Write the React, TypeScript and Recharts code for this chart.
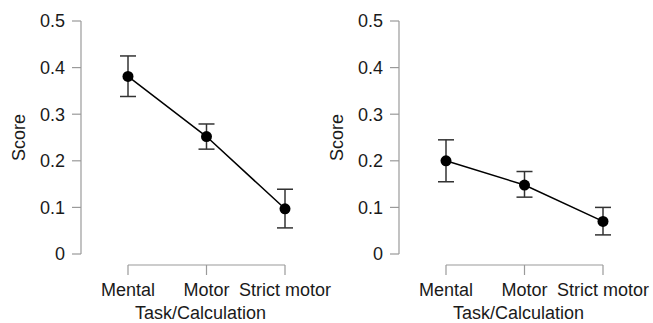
import React from 'react';
import { LineChart, Line, XAxis, YAxis, ErrorBar, ReferenceLine } from 'recharts';

const categories = ['Mental', 'Motor', 'Strict motor'];
const yTicks = [0, 0.1, 0.2, 0.3, 0.4, 0.5];

const leftMean = [0.381, 0.252, 0.097];
const leftLow = [0.338, 0.225, 0.056];
const leftHigh = [0.425, 0.279, 0.139];

const rightMean = [0.2, 0.148, 0.07];
const rightLow = [0.155, 0.122, 0.041];
const rightHigh = [0.245, 0.177, 0.1];

const FONT = '"Liberation Sans", Arial, sans-serif';
const AXIS = '#9a9a9a';
const TEXT = '#1a1a1a';

function buildRows(mean: number[], low: number[], high: number[]) {
  return categories.map((name, i) => ({
    name,
    score: mean[i],
    err: [mean[i] - low[i], high[i] - mean[i]],
  }));
}

const XTick = (props: any) => {
  const { x, y, payload } = props;
  return (
    <g>
      <line x1={x} x2={x} y1={y + 11} y2={y + 21} stroke={AXIS} strokeWidth={1.2} />
      <text x={x} y={y + 42} textAnchor="middle" fill={TEXT} fontSize={18} fontFamily={FONT}>
        {payload.value}
      </text>
    </g>
  );
};

const ScoreLabel = (props: any) => {
  const vb = props.viewBox || { x: 0, y: 0, width: 0, height: 0 };
  const cx = vb.x + 18.5;
  const cy = vb.y + vb.height / 2;
  return (
    <text
      x={cx}
      y={cy}
      dy="0.355em"
      textAnchor="middle"
      transform={`rotate(-90 ${cx} ${cy})`}
      fill={TEXT}
      fontSize={18}
      fontFamily={FONT}
    >
      Score
    </text>
  );
};

const AxisSegment = (p: any) => (
  <line x1={p.x1} y1={p.y1 + 11} x2={p.x2} y2={p.y2 + 11} stroke={AXIS} strokeWidth={1.2} />
);

function Panel({ rows, width }: { rows: any[]; width: number }) {
  return (
    <LineChart
      width={width}
      height={323}
      data={rows}
      margin={{ top: 21, right: width - 320, bottom: 0, left: 0 }}
      style={{ fontFamily: FONT }}
    >
      <XAxis
        dataKey="name"
        type="category"
        height={69}
        padding={{ left: 47, right: 35 }}
        axisLine={false}
        tickLine={false}
        tickSize={0}
        tickMargin={0}
        interval={0}
        tick={<XTick />}
        label={{ value: 'Task/Calculation', position: 'insideBottom', offset: 4, fill: TEXT, fontSize: 18, fontFamily: FONT }}
      />
      <YAxis
        type="number"
        domain={[0, 0.5]}
        ticks={yTicks}
        width={81}
        axisLine={{ stroke: AXIS, strokeWidth: 1.2 }}
        tickLine={{ stroke: AXIS, strokeWidth: 1.2 }}
        tickSize={9}
        tickMargin={7}
        tick={{ fill: TEXT, fontSize: 18, fontFamily: FONT }}
        label={{ content: <ScoreLabel /> }}
      />
      <ReferenceLine
        segment={[{ x: categories[0], y: 0 }, { x: categories[categories.length - 1], y: 0 }]}
        shape={AxisSegment}
        ifOverflow="visible"
      />
      <Line
        dataKey="score"
        stroke="#000"
        strokeWidth={1.5}
        isAnimationActive={false}
        dot={{ r: 5.5, fill: '#000', stroke: '#000', strokeWidth: 0 }}
        activeDot={false}
      >
        <ErrorBar dataKey="err" direction="y" width={8} stroke="#333" strokeWidth={1.5} isAnimationActive={false} />
      </Line>
    </LineChart>
  );
}

export default function App() {
  const leftRows = buildRows(leftMean, leftLow, leftHigh);
  const rightRows = buildRows(rightMean, rightLow, rightHigh);
  return (
    <div style={{ position: 'absolute', left: 0, top: 0, width: 653, height: 323, overflow: 'hidden', background: '#fff' }}>
      <div style={{ position: 'absolute', left: 0, top: 0 }}>
        <Panel rows={leftRows} width={336} />
      </div>
      <div style={{ position: 'absolute', left: 318, top: 0 }}>
        <Panel rows={rightRows} width={335} />
      </div>
    </div>
  );
}
